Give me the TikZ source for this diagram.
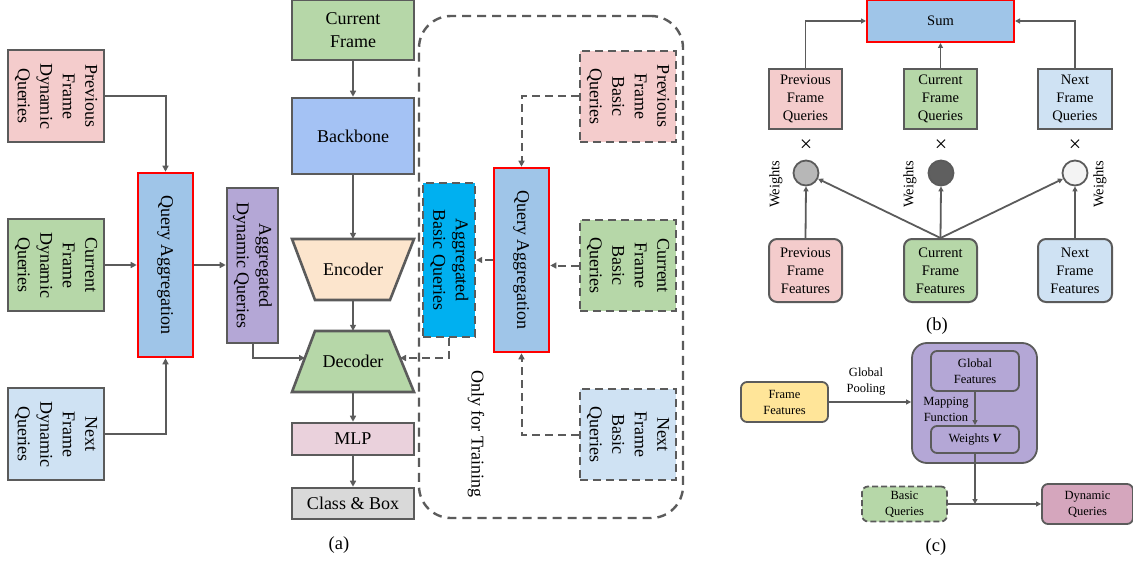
\documentclass[tikz,border=0pt]{standalone}
\usepackage{fontspec}
\setmainfont{Liberation Serif}
\usetikzlibrary{arrows.meta,calc}

\definecolor{edgeC}{HTML}{5B5B5B}
\definecolor{pinkC}{HTML}{F4CCCC}
\definecolor{greenC}{HTML}{B6D7A8}
\definecolor{lblueC}{HTML}{CFE2F3}
\definecolor{qaC}{HTML}{9FC5E8}
\definecolor{purC}{HTML}{B4A7D6}
\definecolor{bbC}{HTML}{A4C2F4}
\definecolor{encC}{HTML}{FCE5CD}
\definecolor{mlpC}{HTML}{EAD1DC}
\definecolor{cbC}{HTML}{D9D9D9}
\definecolor{abqC}{HTML}{00B0F0}
\definecolor{yelC}{HTML}{FFE599}
\definecolor{dqC}{HTML}{D5A6BD}
\definecolor{wOneC}{HTML}{B7B7B7}
\definecolor{wTwoC}{HTML}{5F5F5F}
\definecolor{wThreeC}{HTML}{F3F3F3}

% rotated multi-line labels
\newcommand\vlines[1]{\rotatebox{-90}{\begin{tabular}{@{}c@{}}#1\end{tabular}}}
\newcommand\uplabel[1]{\rotatebox{90}{#1}}

\tikzset{
  fa/.style={font=\fontsize{18}{22.5}\selectfont},
  fb/.style={font=\fontsize{14.5}{18}\selectfont},
  fc/.style={font=\fontsize{12.5}{16}\selectfont},
  blk/.style={fa, draw=edgeC, line width=2.6pt, inner sep=0pt, align=center},
  dblk/.style={blk, line width=2.4pt, dash pattern=on 8pt off 5pt},
  link/.style={draw=edgeC, line width=2pt, -{Triangle[length=6pt,width=6pt]}},
  dlink/.style={link, dash pattern=on 8pt off 5pt},
  trap/.style={draw=edgeC, line width=2.6pt, line join=miter},
  bbox/.style={fb, draw=edgeC, line width=2pt, inner sep=0pt, align=center},
  blink/.style={draw=edgeC, line width=1.8pt, -{Triangle[length=5pt,width=5pt]}},
  wdot/.style={circle, draw=edgeC, line width=1.8pt, minimum size=25pt, inner sep=0pt},
  timesign/.style={font=\fontsize{22}{22}\selectfont, inner sep=0pt},
  cbox/.style={fc, draw=edgeC, line width=1.8pt, inner sep=0pt, align=center, rounded corners=6pt},
  clink/.style={draw=edgeC, line width=1.5pt, -{Triangle[length=5pt,width=5pt]}},
  caption/.style={font=\fontsize{18.5}{22}\selectfont},
}

\begin{document}
\begin{tikzpicture}[x=1pt,y=-1pt]
\useasboundingbox (0,0) rectangle (1133,567);

% ---------------- (a) dynamic queries branch ----------------
\node[blk, fill=pinkC,  minimum width=96, minimum height=92] (pdq) at (56,96)  {\vlines{Previous\\Frame\\Dynamic\\Queries}};
\node[blk, fill=greenC, minimum width=96, minimum height=92] (cdq) at (56,265) {\vlines{Current\\Frame\\Dynamic\\Queries}};
\node[blk, fill=lblueC, minimum width=96, minimum height=92] (ndq) at (56,434) {\vlines{Next\\Frame\\Dynamic\\Queries}};
\node[blk, draw=red, fill=qaC, minimum width=55, minimum height=184] (qa1) at (165.5,265) {\vlines{Query Aggregation}};
\node[blk, fill=purC, minimum width=51, minimum height=155] (adq) at (252.5,265.5) {\vlines{Aggregated\\Dynamic Queries}};

% ---------------- (a) detector ----------------
\node[blk, fill=greenC, minimum width=122, minimum height=60] (cf) at (353,30) {Current\\Frame};
\node[blk, fill=bbC, minimum width=122, minimum height=76] (bb) at (353,136) {Backbone};

\coordinate (encc) at (353,269.5);
\draw[trap, fill=encC] ($(encc)+(-61,-30.5)$) -- ($(encc)+(61,-30.5)$) -- ($(encc)+(37,30.5)$) -- ($(encc)+(-38,30.5)$) -- cycle;
\node[fa, inner sep=0pt, minimum width=122, minimum height=61] (enc) at (encc) {Encoder};

\coordinate (decc) at (353,361.5);
\draw[trap, fill=greenC] ($(decc)+(-38,-30.5)$) -- ($(decc)+(36,-30.5)$) -- ($(decc)+(61,30.5)$) -- ($(decc)+(-61,30.5)$) -- cycle;
\node[fa, inner sep=0pt, minimum width=122, minimum height=61] (dec) at (decc) {Decoder};
\coordinate (decL) at (305,358);
\coordinate (decR) at (400,358);

\node[blk, fill=mlpC, minimum width=122, minimum height=32] (mlp) at (353,439) {MLP};
\node[blk, fill=cbC, minimum width=122, minimum height=31] (cb) at (353,503.5) {Class \& Box};
\node[caption] (capa) at (339,545) {(a)};

% ---------------- (a) training-only branch ----------------
\node[draw=edgeC, line width=2.4pt, dash pattern=on 9pt off 6pt, rounded corners=32pt,
      minimum width=264, minimum height=502, inner sep=0pt] (train) at (551,267) {};
\node[blk, dblk, fill=pinkC,  minimum width=96, minimum height=91] (pbq) at (628,96.5)  {\vlines{Previous\\Frame\\Basic\\Queries}};
\node[blk, dblk, fill=greenC, minimum width=96, minimum height=91] (cbq) at (628,265.5) {\vlines{Current\\Frame\\Basic\\Queries}};
\node[blk, dblk, fill=lblueC, minimum width=96, minimum height=91] (nbq) at (628,434.5) {\vlines{Next\\Frame\\Basic\\Queries}};
\node[blk, draw=red, fill=qaC, minimum width=55, minimum height=184] (qa2) at (521.5,260) {\vlines{Query Aggregation}};
\node[blk, dblk, fill=abqC, minimum width=52, minimum height=154] (abq) at (449,260) {\vlines{Aggregated\\Basic Queries}};
\node[fa] (only) at (476,434) {\rotatebox{-90}{Only for Training}};

% connectors of (a)
\draw[link] (pdq.east) -| (qa1.north);
\draw[link] (cdq.east) -- (cdq.east -| qa1.west);
\draw[link] (ndq.east) -| (qa1.south);
\draw[link] (qa1.east) -- (qa1.east -| adq.west);
\draw[link] (adq.south) |- (decL);
\draw[link] (cf.south) -- (bb.north);
\draw[link] (bb.south) -- (enc.north);
\draw[link] (enc.south) -- (dec.north);
\draw[link] (dec.south) -- (mlp.north);
\draw[link] (mlp.south) -- (cb.north);
\draw[dlink] (pbq.west) -| (qa2.north);
\draw[dlink] (cbq.west) -- (cbq.west -| qa2.east);
\draw[dlink] (nbq.west) -| (qa2.south);
\draw[dlink] (qa2.west) -- (qa2.west -| abq.east);
\draw[dlink] (abq.south) |- (decR);

% ---------------- (b) query aggregation ----------------
\node[bbox, draw=red, fill=qaC, minimum width=147, minimum height=42] (sum) at (940.5,21) {Sum};
\node[bbox, fill=pinkC,  minimum width=73, minimum height=60] (pq) at (805.5,99) {Previous\\Frame\\Queries};
\node[bbox, fill=greenC, minimum width=73, minimum height=60] (cq) at (940.5,99) {Current\\Frame\\Queries};
\node[bbox, fill=lblueC, minimum width=74, minimum height=60] (nq) at (1075,99) {Next\\Frame\\Queries};
\node[timesign] (x1) at (806,146) {×};
\node[timesign] (x2) at (941,146) {×};
\node[timesign] (x3) at (1075,146) {×};
\node[wdot, fill=wOneC]   (w1) at (806,173) {};
\node[wdot, fill=wTwoC]   (w2) at (941,173) {};
\node[wdot, fill=wThreeC] (w3) at (1075,173) {};
\node[fb] (lw1) at (776,184) {\uplabel{Weights}};
\node[fb] (lw2) at (910,184) {\uplabel{Weights}};
\node[fb] (lw3) at (1100,184) {\uplabel{Weights}};
\node[bbox, rounded corners=8pt, fill=pinkC,  minimum width=73, minimum height=63] (pf) at (805.5,270.5) {Previous\\Frame\\Features};
\node[bbox, rounded corners=8pt, fill=greenC, minimum width=73, minimum height=63] (cfe) at (940.5,270.5) {Current\\Frame\\Features};
\node[bbox, rounded corners=8pt, fill=lblueC, minimum width=74, minimum height=63] (nf) at (1075,270.5) {Next\\Frame\\Features};
\node[caption] (capb) at (937,326) {(b)};

\draw[blink] (pq.north) |- (sum.west);
\draw[blink] (cq.north) -- (sum.south);
\draw[blink] (nq.north) |- (sum.east);
\draw[blink] (pf.north) -- (w1.south);
\draw[blink] (cfe.north) -- (w1);
\draw[blink] (cfe.north) -- (w2.south);
\draw[blink] (cfe.north) -- (w3);
\draw[blink] (nf.north) -- (w3.south);

% ---------------- (c) dynamic query generation ----------------
\node[cbox, fill=yelC, minimum width=87, minimum height=40] (ff) at (784.5,402) {Frame\\Features};
\node[cbox, fill=purC, rounded corners=15pt, minimum width=125, minimum height=120] (map) at (974.5,403) {};
\node[cbox, fill=purC, minimum width=88, minimum height=40] (gf) at (975,371) {Global\\Features};
\node[cbox, fill=purC, minimum width=88, minimum height=27] (wv) at (975,439.5) {Weights \textbf{\textit{V}}};
\node[fc, align=center] (mf) at (946,409) {Mapping\\Function};
\node[fc, align=center] (gp) at (866,382) {Global\\Pooling};
\node[cbox, fill=greenC, dash pattern=on 6pt off 3pt, minimum width=85, minimum height=35] (bq) at (904.5,504) {Basic\\Queries};
\node[cbox, fill=dqC, minimum width=91, minimum height=40] (dq) at (1087.5,504) {Dynamic\\Queries};
\coordinate (jn) at (wv.south |- bq.east);
\node[caption] (capc) at (936,547) {(c)};

\draw[clink] (ff.east) -- (ff.east -| map.west);
\draw[clink] (gf.south) -- (wv.north);
\draw[clink] (wv.south) -- (jn);
\draw[clink] (bq.east) -- (bq.east -| dq.west);

\end{tikzpicture}
\end{document}
